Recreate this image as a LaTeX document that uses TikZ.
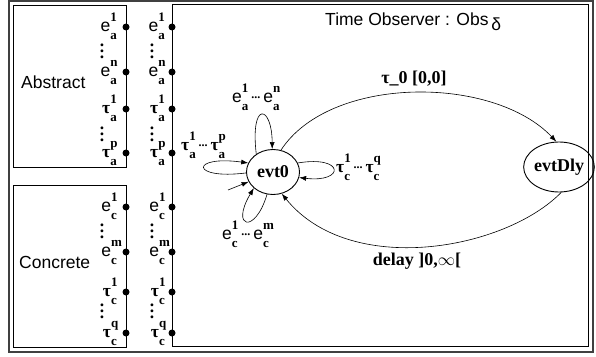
\documentclass[tikz,border=0pt]{standalone}
\usepackage{fontspec}
\setmainfont{Liberation Sans}
\newfontfamily\tms{Liberation Serif}
\usetikzlibrary{arrows.meta, shapes.geometric}

% bold serif indices, stacked after the base letter
\newcommand{\subf}{\tms\bfseries\fontsize{13}{14}\selectfont}
\newcommand{\sym}[3]{#1%
  \sbox0{\subf #3}\sbox2{\subf #2}%
  \rlap{\raisebox{10pt}{\usebox0}}\raisebox{-8.5pt}{\usebox2}%
  \ifdim\wd0>\wd2 \hspace{\dimexpr\wd0-\wd2\relax}\fi}
\newcommand{\ttau}{{\tms\bfseries τ}}
\newcommand{\dts}{\,\raisebox{3.5pt}{\tms\bfseries\fontsize{12}{12}\selectfont...}\,}
\newcommand{\vdts}{\vbox{\baselineskip=6pt\lineskiplimit=-\maxdimen
  \hbox{\tms\bfseries.}\hbox{\tms\bfseries.}\hbox{\tms\bfseries.}}}

\begin{document}
\begin{tikzpicture}[
    x=1pt, y=1pt,
    font=\fontsize{17.5}{20}\selectfont,
    frame/.style={draw=black, line width=0.9pt},
    port/.style={circle, fill=black, inner sep=0pt, minimum size=7pt},
    portlbl/.style={anchor=base east, inner sep=0pt},
    vdot/.style={inner sep=0pt},
    state/.style={
        ellipse, draw=black, line width=0.9pt, inner sep=0pt,
        font=\tms\bfseries\fontsize{18}{20}\selectfont
    },
    trans/.style={-{Latex[length=7pt,width=5pt]}, line width=0.6pt},
    looplbl/.style={anchor=base west, inner sep=0pt},
    edgelbl/.style={
        anchor=base, inner sep=0pt,
        font=\tms\bfseries\fontsize{18}{20}\selectfont
    }
]
\useasboundingbox (0,0) rectangle (596,-356);
\draw[draw=black!75, line width=1.1pt] (9,-1) rectangle (593,-352);

% abstract component
\draw[frame] (13,-5) rectangle (126,-167);
\node[anchor=base west, inner sep=0pt] (abslbl) at (21,-88) {Abstract};
\node[port] (ea1) at (126,-27) {};
\node[port] (ean) at (126,-72) {};
\node[port] (ta1) at (126,-109) {};
\node[port] (tap) at (126,-153) {};
\node[portlbl] (lea1) at (117,-31) {\sym{e}{a}{1}};
\node[portlbl] (lean) at (117,-76) {\sym{e}{a}{n}};
\node[portlbl] (lta1) at (117,-113) {\sym{\ttau}{a}{1}};
\node[portlbl] (ltap) at (117,-157) {\sym{\ttau}{a}{p}};
\node[vdot] (vea) at (102,-51) {\vdts};
\node[vdot] (vta) at (102,-134) {\vdts};

% concrete component
\draw[frame] (13,-185) rectangle (126,-347);
\node[anchor=base west, inner sep=0pt] (conlbl) at (19,-268) {Concrete};
\node[port] (ec1) at (126,-207) {};
\node[port] (ecm) at (126,-252) {};
\node[port] (tc1) at (126,-292) {};
\node[port] (tcq) at (126,-333) {};
\node[portlbl] (lec1) at (117,-211) {\sym{e}{c}{1}};
\node[portlbl] (lecm) at (117,-256) {\sym{e}{c}{m}};
\node[portlbl] (ltc1) at (117,-296) {\sym{\ttau}{c}{1}};
\node[portlbl] (ltcq) at (117,-337) {\sym{\ttau}{c}{q}};
\node[vdot] (vec) at (102,-231) {\vdts};
\node[vdot] (vtc) at (102,-311) {\vdts};

% observer
\draw[frame] (172,-4) rectangle (588,-346);
\node[anchor=base west, inner sep=0pt] (title) at (325,-25)
    {Time Observer : Obs\,\raisebox{-5pt}{δ}};
\node[port] (oea1) at (172,-27) {};
\node[port] (oean) at (172,-72) {};
\node[port] (ota1) at (172,-109) {};
\node[port] (otap) at (172,-153) {};
\node[port] (oec1) at (172,-207) {};
\node[port] (oecm) at (172,-252) {};
\node[port] (otc1) at (172,-292) {};
\node[port] (otcq) at (172,-333) {};
\node[portlbl] (loea1) at (165,-31) {\sym{e}{a}{1}};
\node[portlbl] (loean) at (165,-76) {\sym{e}{a}{n}};
\node[portlbl] (lota1) at (165,-113) {\sym{\ttau}{a}{1}};
\node[portlbl] (lotap) at (165,-157) {\sym{\ttau}{a}{p}};
\node[portlbl] (loec1) at (165,-211) {\sym{e}{c}{1}};
\node[portlbl] (loecm) at (165,-256) {\sym{e}{c}{m}};
\node[portlbl] (lotc1) at (165,-296) {\sym{\ttau}{c}{1}};
\node[portlbl] (lotcq) at (165,-337) {\sym{\ttau}{c}{q}};
\node[vdot] (ovea) at (152,-51) {\vdts};
\node[vdot] (ovta) at (152,-134) {\vdts};
\node[vdot] (ovec) at (152,-231) {\vdts};
\node[vdot] (ovtc) at (152,-311) {\vdts};

\node[state, minimum width=53pt, minimum height=45pt] (evt0) at (273,-172) {evt0};
\node[state, minimum width=50pt, minimum height=50pt] (evtDly) at (559,-167) {evtDly};

\coordinate (init) at (228,-190);
\draw[trans] (init) -- (evt0);

\draw[trans] (evt0.133) .. controls (250,-100) and (272,-105) .. (evt0.92);
\draw[trans] (evt0.182) .. controls (190,-180) and (190,-155) .. (evt0.160);
\draw[trans] (evt0.20) .. controls (345,-155) and (345,-183) .. (evt0.-12);
\draw[trans] (evt0.-105) .. controls (255,-235) and (230,-228) .. (evt0.-140);

\node[looplbl] (lbltop) at (232,-102) {\sym{e}{a}{1}\dts\sym{e}{a}{n}};
\node[looplbl] (lblleft) at (181,-150) {\sym{\ttau}{a}{1}\dts\sym{\ttau}{a}{p}};
\node[looplbl] (lblright) at (336,-172) {\sym{\ttau}{c}{1}\dts\sym{\ttau}{c}{q}};
\node[looplbl] (lblbot) at (222,-239) {\sym{e}{c}{1}\dts\sym{e}{c}{m}};

\draw[trans] (evt0.70) .. controls (330,-75) and (493,-75) .. (evtDly.96);
\draw[trans] (evtDly.-85) .. controls (505,-250) and (350,-278) .. (evt0.-68);

\node[edgelbl] (lbltau) at (414,-83) {τ\_0 [0,0]};
\node[edgelbl] (lbldelay) at (417,-265) {delay ]0,$\infty$[};
\end{tikzpicture}
\end{document}
